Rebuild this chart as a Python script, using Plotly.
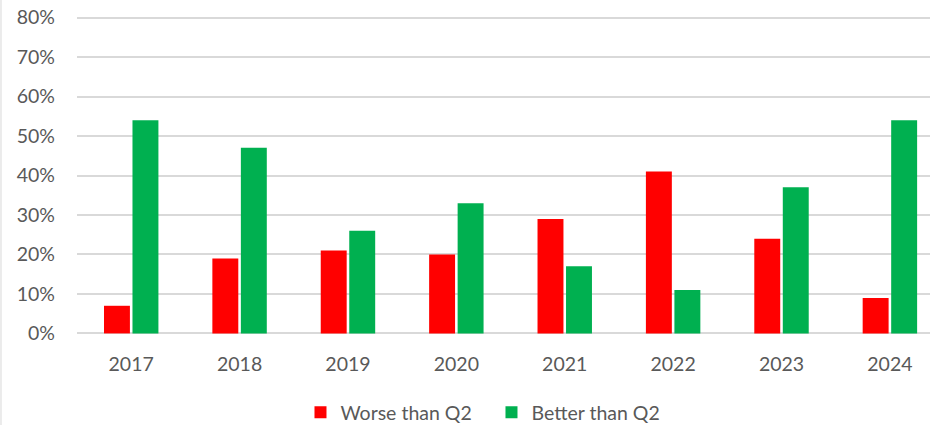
import plotly.graph_objects as go

years = ["2017", "2018", "2019", "2020", "2021", "2022", "2023", "2024"]
worse = [0.07, 0.19, 0.21, 0.20, 0.29, 0.41, 0.24, 0.09]
better = [0.54, 0.47, 0.26, 0.33, 0.17, 0.11, 0.37, 0.54]
series_names = ["Worse than Q2", "Better than Q2"]
y_ticks = [0, 0.1, 0.2, 0.3, 0.4, 0.5, 0.6, 0.7, 0.8]

FONT = "Lato, Open Sans, sans-serif"
TXT = "#595959"
FS = 19.5

fig = go.Figure()
fig.add_trace(go.Bar(x=years, y=worse, name=series_names[0],
                     marker=dict(color="#FF0000", line=dict(width=0))))
fig.add_trace(go.Bar(x=years, y=better, name=series_names[1],
                     marker=dict(color="#00B050", line=dict(width=0))))

fig.update_layout(
    width=938, height=425,
    margin=dict(l=77, r=8, t=16.4, b=90.4, autoexpand=False),
    paper_bgcolor="white", plot_bgcolor="white",
    barmode="group", bargap=0.474, bargroupgap=0.09,
    font=dict(family=FONT, size=FS, color=TXT),
    legend=dict(orientation="h", x=0.262, xanchor="left", y=-0.243, yanchor="middle",
                font=dict(size=FS, color=TXT), traceorder="normal",
                itemwidth=30, entrywidthmode="pixels", entrywidth=146),
    xaxis=dict(range=[-0.5, 7.37], showgrid=False, zeroline=False, showline=False,
               automargin=False, ticks="", ticklabelstandoff=15,
               tickfont=dict(size=FS, color=TXT)),
    yaxis=dict(range=[-0.004, 0.804], tickvals=y_ticks, tickformat=".0%",
               showgrid=True, gridcolor="#D9D9D9", gridwidth=2,
               automargin=False, zeroline=False, showline=False, ticks="",
               ticklabelstandoff=21, tickfont=dict(size=FS, color=TXT)),
    shapes=[dict(type="line", xref="paper", yref="paper", x0=-0.0891, x1=-0.0891,
                 y0=-0.3, y1=1.06, line=dict(color="#D9D9D9", width=1))],
)

fig.write_html("out.html", config={"displayModeBar": False},
               post_script="document.body.style.margin='0';document.body.style.overflow='hidden';")
